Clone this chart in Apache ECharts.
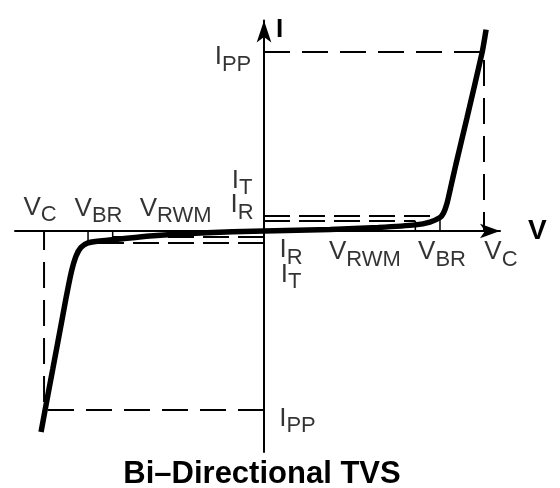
<!DOCTYPE html>
<html>
<head>
<meta charset="utf-8">
<script src="https://cdn.jsdelivr.net/npm/echarts@6/dist/echarts.min.js"></script>
<style>
  html, body { margin: 0; padding: 0; background: #fff; }
  #chart { width: 560px; height: 488px; }
</style>
</head>
<body>
<div id="chart"></div>
<script>
// I-V curve of the bi-directional TVS
// voltage in units of V_BR, current in units of I_PP
const curveV = [-1.267, -1.244, -1.2, -1.16, -1.125, -1.095, -1.068, -1.04, -1.0, -0.93, -0.82, -0.65, -0.36,
    0, 0.375, 0.65, 0.86, 0.943, 1.0, 1.02, 1.04, 1.06, 1.09, 1.153, 1.24, 1.262];
const curveI = [-1.123, -1.0, -0.77, -0.56, -0.375, -0.23, -0.14, -0.092, -0.067, -0.056, -0.045, -0.028, -0.011,
    0, 0.008, 0.02, 0.034, 0.05, 0.075, 0.1, 0.155, 0.24, 0.37, 0.63, 1.0, 1.125];

// characteristic points
const VC = 1.25;
const VBR = 1.0;
const VRWM = 0.86;
const IPP = 1.0;
// test current / leakage current, forward side and reverse side
const itFwd = 0.084;
const irFwd = 0.056;
const itRev = 0.067;
const irRev = 0.034;

const FONT = '"Liberation Sans", Arial, Helvetica, sans-serif';
const black = '#000';

function seg(points, style) {
    return {
        type: 'line',
        data: points,
        symbol: 'none',
        silent: true,
        z: 2,
        lineStyle: Object.assign({ color: black, width: 2 }, style)
    };
}

// label like V_C : main letter + subscript
function tag(main, sub, at, offset) {
    return {
        value: at,
        label: { formatter: '{m|' + main + '}{s|' + sub + '}', offset: offset }
    };
}

const bigDash = { type: [26, 12] };
const smallDash = { type: [26, 9] };
const tick = { width: 1.5 };

const chart = echarts.init(document.getElementById('chart'));
chart.setOption({
    animation: false,
    grid: { left: 15, right: 60, top: 20.5, bottom: 36 },
    xAxis: {
        type: 'value',
        min: -1.415,
        max: 1.341,
        name: 'V',
        nameLocation: 'end',
        nameGap: 28,
        nameTextStyle: { fontFamily: FONT, fontSize: 28, fontWeight: 'bold', color: black, verticalAlign: 'middle', padding: [4, 0, 0, 0] },
        axisLine: { onZero: true, symbol: ['none', 'arrow'], symbolSize: [11, 20], lineStyle: { color: black, width: 2 } },
        axisTick: { show: false },
        axisLabel: { show: false },
        splitLine: { show: false }
    },
    yAxis: {
        type: 'value',
        min: -1.235,
        max: 1.176,
        name: 'I',
        nameLocation: 'end',
        nameGap: -9,
        nameTextStyle: { fontFamily: FONT, fontSize: 26, fontWeight: 'bold', color: black, align: 'left', verticalAlign: 'middle', padding: [0, 0, 0, 12] },
        axisLine: { onZero: true, symbol: ['none', 'arrow'], symbolSize: [11, 22], lineStyle: { color: black, width: 2 } },
        axisTick: { show: false },
        axisLabel: { show: false },
        splitLine: { show: false }
    },
    graphic: [{
        type: 'text',
        x: 262,
        y: 474,
        style: {
            text: 'Bi–Directional TVS',
            font: 'bold 31px ' + FONT,
            fill: black,
            align: 'center',
            verticalAlign: 'middle'
        }
    }],
    series: [
        seg([[0, IPP], [VC, IPP], [VC, 0]], bigDash),
        seg([[0, -IPP], [-VC, -IPP], [-VC, 0]], bigDash),
        seg([[0, itFwd], [VBR, itFwd]], smallDash),
        seg([[0, irFwd], [VRWM, irFwd]], smallDash),
        seg([[0, -itRev], [-VBR, -itRev]], smallDash),
        seg([[0, -irRev], [-VRWM, -irRev]], smallDash),
        seg([[VBR, 0], [VBR, itFwd]], tick),
        seg([[VRWM, 0], [VRWM, irFwd]], tick),
        seg([[-VBR, 0], [-VBR, -itRev]], tick),
        seg([[-VRWM, 0], [-VRWM, -irRev]], tick),
        {
            type: 'line',
            data: curveV.map((v, i) => [v, curveI[i]]),
            smooth: 0.2,
            symbol: 'none',
            silent: true,
            z: 5,
            lineStyle: { color: black, width: 5.5 }
        },
        {
            type: 'scatter',
            symbolSize: 1,
            silent: true,
            z: 6,
            itemStyle: { color: 'transparent' },
            label: {
                show: true,
                position: 'inside',
                color: black,
                rich: {
                    m: { fontFamily: FONT, fontSize: 26, lineHeight: 26, verticalAlign: 'top', color: black },
                    s: { fontFamily: FONT, fontSize: 22, lineHeight: 41, color: black }
                }
            },
            data: [
                tag('V', 'C', [-VC, 0], [-4, -16]),
                tag('V', 'BR', [-VBR, 0], [10.5, -15]),
                tag('V', 'RWM', [-VRWM, 0], [63, -15]),
                tag('I', 'T', [0, 0], [-22, -43]),
                tag('I', 'R', [0, 0], [-22, -18.5]),
                tag('I', 'PP', [0, IPP], [-31, 12.5]),
                tag('I', 'R', [0, 0], [27, 26.5]),
                tag('I', 'T', [0, 0], [27, 51]),
                tag('V', 'RWM', [VRWM, 0], [-50.5, 28.5]),
                tag('V', 'BR', [VBR, 0], [2, 28.5]),
                tag('V', 'C', [VC, 0], [17, 28.5]),
                tag('I', 'PP', [0, -IPP], [33.5, 16])
            ]
        }
    ]
});
</script>
</body>
</html>
